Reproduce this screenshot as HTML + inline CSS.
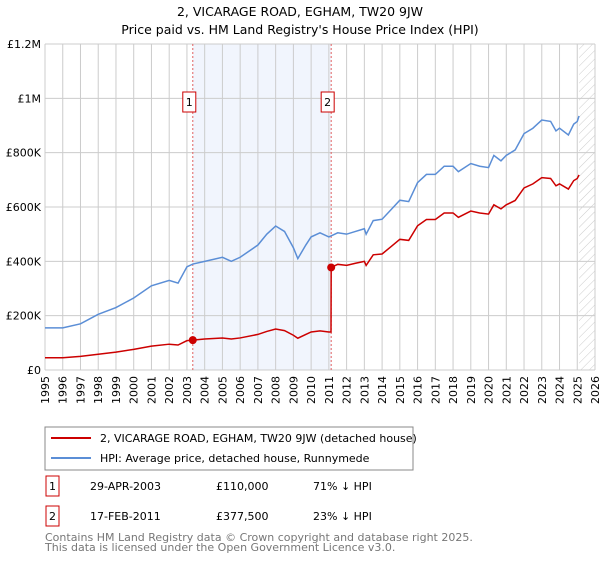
<!DOCTYPE html>
<html><head><meta charset="utf-8"><style>
body{margin:0;width:600px;height:560px;background:#fff;font-family:"DejaVu Sans","Liberation Sans",sans-serif;overflow:hidden}
svg text{font-family:"DejaVu Sans","Liberation Sans",sans-serif}
</style></head><body>
<svg id="c" width="600" height="560">
<defs><pattern id="h" width="6" height="6" patternUnits="userSpaceOnUse" patternTransform="rotate(45)"><line x1="0" y1="0" x2="0" y2="6" stroke="#ccc" stroke-width="1"/></pattern></defs>
<text x="300" y="16" text-anchor="middle" font-size="12.5">2, VICARAGE ROAD, EGHAM, TW20 9JW</text>
<text x="300" y="34" text-anchor="middle" font-size="12.5">Price paid vs. HM Land Registry's House Price Index (HPI)</text>
<g id="plot"></g>
<rect x="45" y="427" width="368" height="43" fill="#fff" stroke="#888"/>
<line x1="51" y1="438" x2="91" y2="438" stroke="#cc0000" stroke-width="2"/>
<text x="100" y="442" font-size="11">2, VICARAGE ROAD, EGHAM, TW20 9JW (detached house)</text>
<line x1="51" y1="458" x2="91" y2="458" stroke="#5b8ed6" stroke-width="2"/>
<text x="100" y="462" font-size="11">HPI: Average price, detached house, Runnymede</text>
<g font-size="11">
<rect x="46" y="476" width="13" height="20" fill="#fff" stroke="#cc0000"/>
<text x="52.5" y="490" text-anchor="middle">1</text>
<text x="90" y="490">29-APR-2003</text><text x="216" y="490">£110,000</text><text x="313" y="490">71% ↓ HPI</text>
<rect x="46" y="506" width="13" height="20" fill="#fff" stroke="#cc0000"/>
<text x="52.5" y="520" text-anchor="middle">2</text>
<text x="90" y="520">17-FEB-2011</text><text x="216" y="520">£377,500</text><text x="313" y="520">23% ↓ HPI</text>
</g>
<text x="45" y="541" font-size="11" fill="#777">Contains HM Land Registry data © Crown copyright and database right 2025.</text>
<text x="45" y="551" font-size="11" fill="#777">This data is licensed under the Open Government Licence v3.0.</text>
</svg>
<script>
const hpiYears=[1995,1996,1997,1998,1999,2000,2001,2002,2002.5,2003,2003.33,2004,2005,2005.5,2006,2007,2007.5,2008,2008.5,2009,2009.25,2009.7,2010,2010.5,2011,2011.5,2012,2012.5,2013,2013.1,2013.5,2014,2014.5,2015,2015.5,2016,2016.5,2017,2017.5,2018,2018.3,2019,2019.5,2020,2020.3,2020.7,2021,2021.5,2022,2022.5,2023,2023.5,2023.8,2024,2024.5,2024.8,2025,2025.1];
const hpiValues=[155,155,170,205,230,265,310,330,320,380,390,400,415,400,415,460,500,530,510,450,410,460,490,505,490,505,500,510,520,500,550,555,590,625,620,690,720,720,750,750,730,760,750,745,790,770,790,810,870,890,920,915,880,890,865,905,915,935];
const priceYears=[1995,1996,1997,1998,1999,2000,2001,2002,2002.5,2003,2003.33,2004,2005,2005.5,2006,2007,2007.5,2008,2008.5,2009,2009.25,2009.7,2010,2010.5,2011,2011.12,2011.13,2011.5,2012,2012.5,2013,2013.1,2013.5,2014,2014.5,2015,2015.5,2016,2016.5,2017,2017.5,2018,2018.3,2019,2019.5,2020,2020.3,2020.7,2021,2021.5,2022,2022.5,2023,2023.5,2023.8,2024,2024.5,2024.8,2025,2025.1];
const priceValues=[45,45,50,58,66,76,88,95,92,108,110,114,118,114,118,131,142,151,145,128,117,131,140,144,140,140,377.5,389,385,393,400,385,424,427,454,481,477,531,554,554,578,578,562,585,578,574,608,593,608,624,670,685,708,705,678,685,666,697,705,718];
const saleYears=[2003.33,2011.13];
const saleValues=[110,377.5];
const saleLabels=["1","2"];
const yTicks=[0,200,400,600,800,1000,1200];
const yTickLabels=["£0","£200K","£400K","£600K","£800K","£1M","£1.2M"];
const NS="http://www.w3.org/2000/svg";
const X0=45,X1=595,Y0=370,Y1=44,YR0=1995,YR1=2026;
const xs=v=>X0+(v-YR0)/(YR1-YR0)*(X1-X0);
const ys=v=>Y0-v/1200*(Y0-Y1);
const g=document.getElementById('plot');
function mk(t,a){const e=document.createElementNS(NS,t);for(const k in a)e.setAttribute(k,a[k]);g.appendChild(e);return e;}
let e=mk('rect',{x:xs(saleYears[0]),y:Y1,width:xs(saleYears[1])-xs(saleYears[0]),height:Y0-Y1,fill:'#eef3fd',opacity:0.8});


e=mk('rect',{x:xs(2025.1),y:Y1,width:X1-xs(2025.1),height:Y0-Y1,fill:'url(#h)'});


for(let yr=YR0;yr<=YR1;yr++){
 e=mk('line',{x1:xs(yr),x2:xs(yr),y1:Y1,y2:Y0,stroke:'#ccc','stroke-width':1});
 
 
 e=mk('text',{x:0,y:0,'font-size':11,'text-anchor':'end',transform:`translate(${xs(yr)+4},${Y0+6}) rotate(-90)`});
 e.textContent=yr;
 
 
}
yTicks.forEach((v,i)=>{
 e=mk('line',{x1:X0,x2:X1,y1:ys(v),y2:ys(v),stroke:'#ccc','stroke-width':1});
 
 
 e=mk('text',{x:X0-4,y:ys(v)+4,'font-size':11,'text-anchor':'end'});
 e.textContent=yTickLabels[i];
 
 
});
saleYears.forEach((v,i)=>{
 e=mk('line',{x1:xs(v),x2:xs(v),y1:Y1,y2:Y0,stroke:'#e06060','stroke-width':1,'stroke-dasharray':'2,2'});
 
 
 e=mk('rect',{x:xs(v)-10,y:92,width:13,height:20,fill:'#fff',stroke:'#cc0000'});
 
 
 e=mk('text',{x:xs(v)-3.5,y:106,'font-size':11,'text-anchor':'middle'});
 e.textContent=saleLabels[i];
 
 
});
function line(xa,va,col,name){
 const el=mk('polyline',{points:xa.map((x,i)=>xs(x)+','+ys(va[i])).join(' '),fill:'none',stroke:col,'stroke-width':1.5});
 
 
}
line(hpiYears,hpiValues,'#5b8ed6','hpi-line');
line(priceYears,priceValues,'#cc0000','price-paid-line');
saleYears.forEach((v,i)=>{
 e=mk('circle',{cx:xs(v),cy:ys(saleValues[i]),r:4,fill:'#cc0000'});
 
 
});
</script>
</body></html>
